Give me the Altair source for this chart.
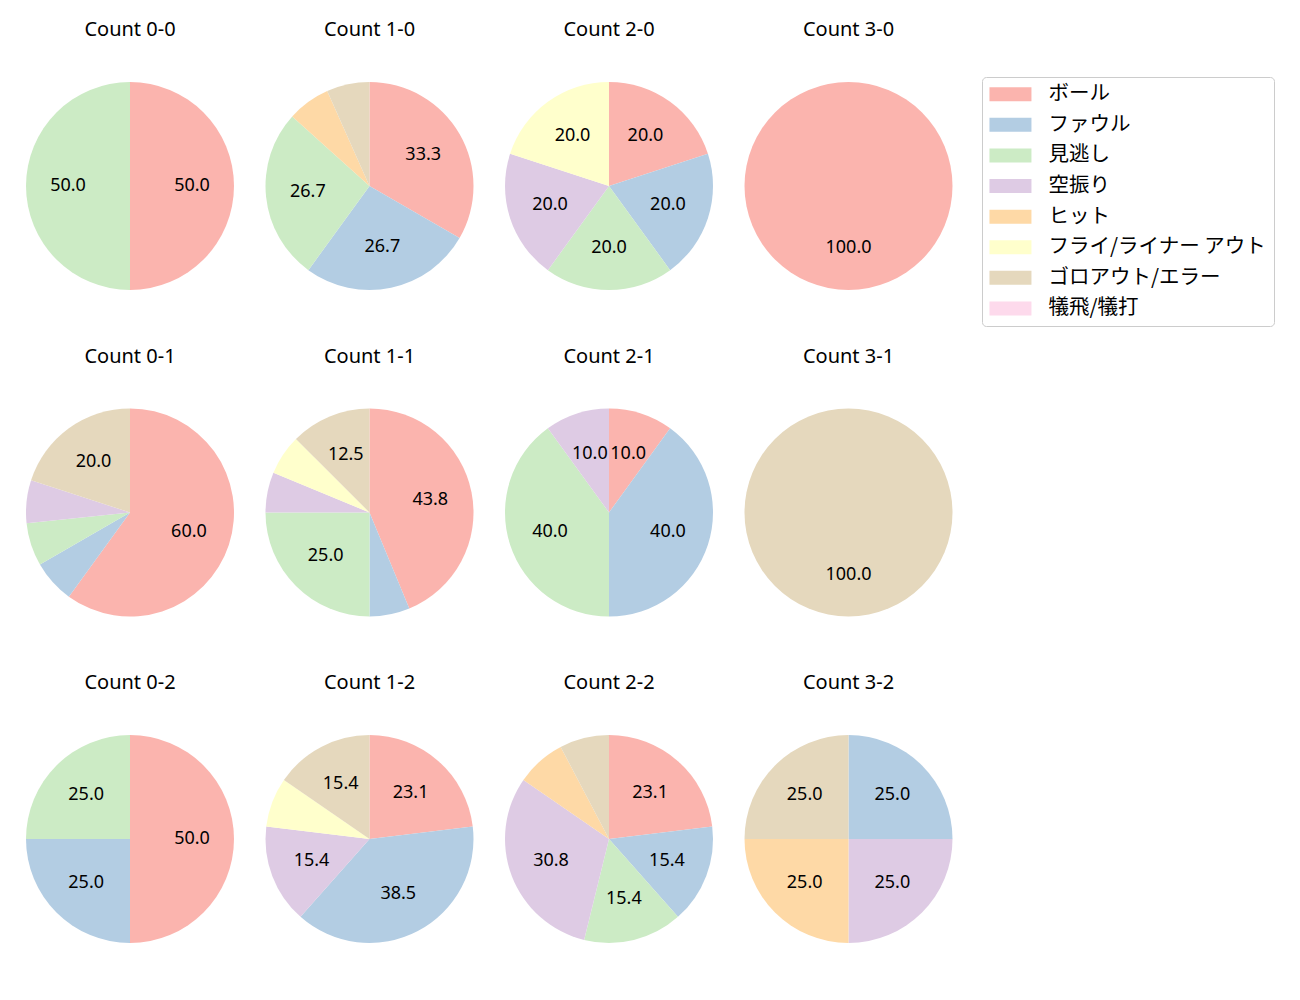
import altair as alt
import pandas as pd

categories = ["ボール", "ファウル", "見逃し", "空振り", "ヒット",
              "フライ/ライナー アウト", "ゴロアウト/エラー", "犠飛/犠打"]
colors = ["#fbb4ae", "#b3cde3", "#ccebc5", "#decbe4", "#fed9a6",
          "#ffffcc", "#e5d8bd", "#fddaec"]
panels = ["Count 0-0", "Count 1-0", "Count 2-0", "Count 3-0",
          "Count 0-1", "Count 1-1", "Count 2-1", "Count 3-1",
          "Count 0-2", "Count 1-2", "Count 2-2", "Count 3-2"]
# counts per category, in category order
c00 = [1, 0, 1, 0, 0, 0, 0, 0]
c10 = [5, 4, 4, 0, 1, 0, 1, 0]
c20 = [1, 1, 1, 1, 0, 1, 0, 0]
c30 = [1, 0, 0, 0, 0, 0, 0, 0]
c01 = [9, 1, 1, 1, 0, 0, 3, 0]
c11 = [7, 1, 4, 1, 0, 1, 2, 0]
c21 = [1, 4, 4, 1, 0, 0, 0, 0]
c31 = [0, 0, 0, 0, 0, 0, 1, 0]
c02 = [2, 1, 1, 0, 0, 0, 0, 0]
c12 = [3, 5, 0, 2, 0, 1, 2, 0]
c22 = [3, 2, 2, 4, 1, 0, 1, 0]
c32 = [0, 1, 0, 1, 1, 0, 1, 0]
all_counts = [c00, c10, c20, c30, c01, c11, c21, c31, c02, c12, c22, c32]

rows = []
for p, cnts in zip(panels, all_counts):
    for i, (cat, n) in enumerate(zip(categories, cnts)):
        if n > 0:
            rows.append({"panel": p, "cat": cat, "idx": i, "n": n})
df = pd.DataFrame(rows)

FONT = "Noto Sans"
JFONT = "Noto Sans CJK JP"

base = alt.Chart(df).transform_joinaggregate(
    total="sum(n)", groupby=["panel"]
).transform_calculate(
    pct="datum.n / datum.total * 100",
    label="datum.n / datum.total * 100 >= 10 ? format(datum.n / datum.total * 100, '.1f') : ''",
)

legend_path = "M-1.4,-1L4.6,-1L4.6,1L-1.4,1Z"

arcs = base.mark_arc().encode(
    theta=alt.Theta("n:Q", stack=True),
    color=alt.Color(
        "cat:N",
        scale=alt.Scale(domain=categories, range=colors),
        legend=alt.Legend(
            title=None, orient="none", legendX=956, legendY=-5,
            symbolType=legend_path, symbolSize=196, symbolStrokeWidth=0,
            labelFont=JFONT, labelFontSize=20.5, labelColor="#000000",
            labelOffset=39, rowPadding=9.6, padding=7,
            strokeColor="#cccccc", cornerRadius=4, fillColor="white",
            labelLimit=300,
        ),
    ),
    order=alt.Order("idx:Q", sort="ascending"),
)

texts = base.mark_text(radius=62, font=FONT, fontSize=18, color="#000000").encode(
    theta=alt.Theta("n:Q", stack=True),
    text="label:N",
    detail="cat:N",
    order=alt.Order("idx:Q", sort="ascending"),
)

chart = alt.layer(arcs, texts).properties(width=208, height=208).facet(
    facet=alt.Facet("panel:N", sort=panels, title=None,
                    header=alt.Header(labelFont=FONT, labelFontSize=20,
                                      labelColor="#000000", labelPadding=42)),
    columns=4,
    spacing={"row": 56.5, "column": 31.5},
).resolve_scale(theta="independent").properties(
    padding={"left": 26, "top": 20, "right": 5, "bottom": 5}
).configure_view(stroke=None)

chart.save("out.html", embed_options={"renderer": "svg", "actions": False})
